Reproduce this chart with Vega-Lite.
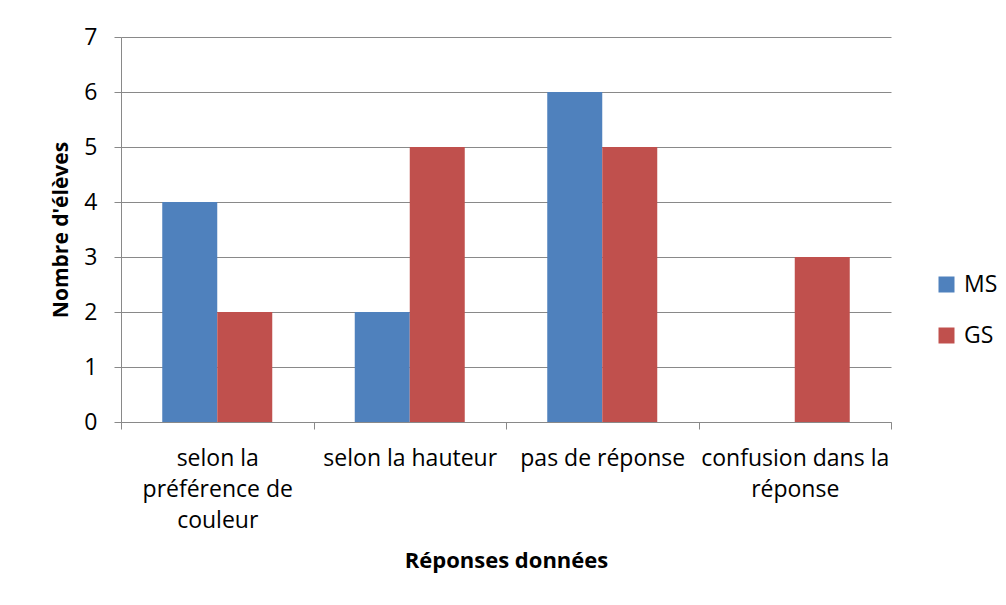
{
  "$schema": "https://vega.github.io/schema/vega-lite/v6.json",
  "width": 770,
  "height": 385,
  "autosize": {"type": "none"},
  "padding": {"left": 121, "top": 37, "right": 115, "bottom": 183},
  "background": "white",
  "config": {
    "font": "Open Sans",
    "view": {"stroke": null},
    "axis": {"domainColor": "#898989", "tickColor": "#898989", "gridColor": "#898989", "labelColor": "#000000", "titleColor": "#000000", "labelFont": "Open Sans", "titleFont": "Open Sans"}
  },
  "data": {
    "values": [
      {"reponse": "selon la préférence de couleur", "classe": "MS", "eleves": 4},
      {"reponse": "selon la préférence de couleur", "classe": "GS", "eleves": 2},
      {"reponse": "selon la hauteur", "classe": "MS", "eleves": 2},
      {"reponse": "selon la hauteur", "classe": "GS", "eleves": 5},
      {"reponse": "pas de réponse", "classe": "MS", "eleves": 6},
      {"reponse": "pas de réponse", "classe": "GS", "eleves": 5},
      {"reponse": "confusion dans la réponse", "classe": "MS", "eleves": 0},
      {"reponse": "confusion dans la réponse", "classe": "GS", "eleves": 3}
    ]
  },
  "mark": {"type": "bar", "stroke": null},
  "encoding": {
    "x": {
      "field": "reponse",
      "type": "nominal",
      "sort": null,
      "scale": {"paddingInner": 0, "paddingOuter": 0},
      "axis": {
        "title": "Réponses données",
        "titleFontSize": 22,
        "titleFontWeight": "bold",
        "titlePadding": 18,
        "labelAngle": 0,
        "labelFontSize": 23,
        "labelLimit": 300,
        "labelLineHeight": 31,
        "labelPadding": 18,
        "tickSize": 7,
        "tickBand": "extent",
        "labelExpr": "datum.value == 'selon la préférence de couleur' ? ['selon la', 'préférence de', 'couleur'] : datum.value == 'confusion dans la réponse' ? ['confusion dans la', 'réponse'] : datum.value"
      }
    },
    "xOffset": {"field": "classe", "type": "nominal", "sort": ["MS", "GS"], "scale": {"paddingInner": 0, "paddingOuter": 0.75}},
    "y": {
      "field": "eleves",
      "type": "quantitative",
      "scale": {"domain": [0, 7], "nice": false},
      "axis": {
        "title": "Nombre d'élèves",
        "titleFontSize": 21,
        "titleFontWeight": "bold",
        "titlePadding": 12,
        "values": [0, 1, 2, 3, 4, 5, 6, 7],
        "labelFontSize": 23,
        "labelPadding": 17,
        "tickSize": 7,
        "grid": true
      }
    },
    "color": {
      "field": "classe",
      "type": "nominal",
      "sort": ["MS", "GS"],
      "scale": {"domain": ["MS", "GS"], "range": ["#4F81BD", "#C0504D"]},
      "legend": {
        "title": null,
        "orient": "none",
        "legendX": 814,
        "legendY": 236,
        "symbolType": "square",
        "symbolSize": 256,
        "symbolStrokeWidth": 0,
        "labelFontSize": 23,
        "labelColor": "#000000",
        "rowPadding": 27,
        "labelOffset": 6
      }
    }
  }
}
